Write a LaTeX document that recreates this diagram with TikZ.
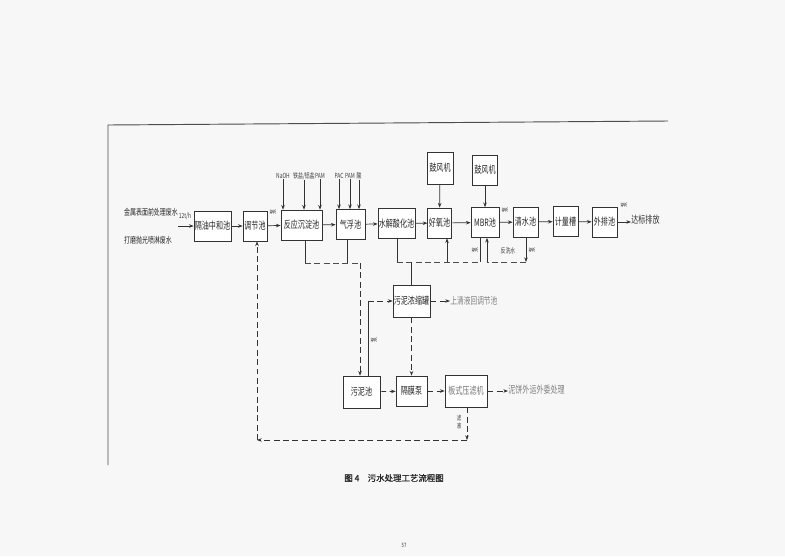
\documentclass[tikz,border=0pt]{standalone}
\usepackage{fontspec}
\setmainfont[FakeStretch=0.7]{Noto Sans CJK SC}
\newfontfamily\capfont[FakeBold=1]{Noto Sans CJK SC}
\usetikzlibrary{arrows.meta, calc}

\begin{document}
\begin{tikzpicture}[
			x=0.3mm, 
			y=-0.3mm, 
			line width=0.6pt, 
			every node/.style={ 
				inner sep=0pt 
			}, 
			pool/.style={ 
				draw=black!80, 
				fill=white, 
				minimum height=9mm, 
				font=\fontsize{8.6}{9}\selectfont, 
				text=black!85 
			}, 
			note/.style={ 
				font=\fontsize{6}{6}\selectfont, 
				text=black!75 
			}, 
			faint/.style={ 
				font=\fontsize{8.2}{9}\selectfont, 
				text=black!50 
			}, 
			flow/.style={ 
				draw=black!80, 
				-{Stealth[length=4pt, width=3pt]} 
			}, 
			sludge/.style={ 
				draw=black!70, 
				dash pattern=on 5pt off 3pt 
			} 
			] 
			% Page 
			\fill[black!3] (0,0) rectangle (785,556);
			\draw[black!70, line width=0.8pt] (108,465) -- (108,125) -- (668,121);

			% Main line 
			\node[align=left, font=\fontsize{7.3}{23.5}\selectfont, text=black!85] (src) at (151,226) {金属表面前处理废水\\打磨抛光喷淋废水};
			\node[note] (rate) at (185,216) {12t/h};
			\node[pool, minimum width=11.1mm] (geyou) at (212.5,226) {隔油中和池};
			\node[pool, minimum width=7.2mm] (tiaojie) at (255,226) {调节池};
			\node[pool, minimum width=12.3mm] (fanying) at (301.5,225) {反应沉淀池};
			\node[pool, minimum width=8.7mm] (qifu) at (350.5,224.5) {气浮池};
			\node[pool, minimum width=11.1mm] (shuijie) at (396.5,223.5) {水解酸化池};
			\node[pool, minimum width=7mm] (haoyang) at (439.5,223) {好氧池};
			\node[pool, minimum width=8.4mm] (mbr) at (485,222.5) {MBR池};
			\node[pool, minimum width=7.5mm] (qingshui) at (525.5,222) {清水池};
			\node[pool, minimum width=7.5mm] (jiliang) at (565.5,221.5) {计量槽};
			\node[pool, minimum width=7.5mm] (waipai) at (604.5,222) {外排池};
			\node[anchor=west, font=\fontsize{8.6}{9}\selectfont, text=black!80] (out) at (631,220) {达标排放};

			% Blowers 
			\node[pool, minimum width=7.8mm, minimum height=9.6mm] (blow1) at (440,168) {鼓风机};
			\node[pool, minimum width=7.5mm, minimum height=9mm] (blow2) at (485,170) {鼓风机};

			% Dosing 
			\node[note] (naoh) at (283,176) {NaOH};
			\node[note] (salt) at (304,176) {铁盐/铝盐};
			\node[note] (pam1) at (320,176) {PAM};
			\node[note] (pac) at (339,176) {PAC};
			\node[note] (pam2) at (350,176) {PAM};
			\node[note] (acid) at (359,176) {酸};

			% Pump labels 
			\node[note, rotate=90] (p1) at (273,212) {泵};
			\node[note, rotate=90] (p2) at (505,210) {泵};
			\node[note, rotate=90] (p3) at (624,205) {泵};
			\node[note, rotate=90] (p4) at (475,250) {泵};
			\node[note, rotate=90] (p5) at (532,250) {泵};
			\node[note, rotate=90] (p6) at (374,340) {泵};
			\node[note] (wash) at (508,251) {反洗水};

			% Sludge line 
			\node[pool, minimum width=11.1mm, minimum height=9.6mm] (nongsuo) at (411.5,301) {污泥浓缩罐};
			\node[anchor=west, faint] (clear) at (450,301) {上清液回调节池};
			\node[pool, minimum width=11.1mm, minimum height=9.6mm] (wuni) at (361.5,392) {污泥池};
			\node[pool, minimum width=9.3mm] (gemo) at (411.5,391) {隔膜泵};
			\node[pool, minimum width=12.6mm, minimum height=9.6mm, text=black!55] (banshi) at (466,391) {板式压滤机};
			\node[anchor=west, faint, font=\fontsize{8.6}{9}\selectfont] (cake) at (508,390) {泥饼外运外委处理};
			\node[note, align=center, font=\fontsize{5.5}{6.5}\selectfont] (lvye) at (459,422) {滤\\液};

			% Caption 
			\node[font=\capfont\fontsize{7.2}{8}\selectfont, text=black!85] (cap) at (394,478) {图 4\quad 污水处理工艺流程图};
			\node[font=\fontsize{5}{5}\selectfont, text=black!80] (pg) at (404,545) {57};

			% Water flow 
			\draw[flow] (src.east |- geyou) -- (geyou);
			\draw[flow] (geyou) -- (tiaojie);
			\draw[flow] (tiaojie) -- (fanying);
			\draw[flow] (fanying) -- (qifu);
			\draw[flow] (qifu) -- (shuijie);
			\draw[flow] (shuijie) -- (haoyang);
			\draw[flow] (haoyang) -- (mbr);
			\draw[flow] (mbr) -- (qingshui);
			\draw[flow] (qingshui) -- (jiliang);
			\draw[flow] (jiliang) -- (waipai);
			\draw[flow] (waipai.east) -- (out.west |- waipai.east);
			\draw[flow] (blow1) -- (haoyang);
			\draw[flow] (blow2) -- (mbr);
			\foreach \d in {naoh, salt, pam1} 
				\draw[flow] (\d) -- (\d |- fanying.north);
			\foreach \d in {pac, pam2, acid} 
				\draw[flow] (\d) -- (\d |- qifu.north);

			% Sludge pipes 
			\coordinate (jA) at (305,263);
			\coordinate (jB) at (347,263);
			\coordinate (jC) at (360,263);
			\coordinate (jD) at (368,301);
			\coordinate (jE) at (397,262);
			\coordinate (jF) at (480,262);
			\coordinate (jG) at (447,262);
			\coordinate (jH) at (411.5,262);
			\coordinate (jI) at (487,262);
			\coordinate (jJ) at (526,262);
			\coordinate (jK) at (467,440);
			\coordinate (jL) at (257,440);
			\draw[black!80] (jA |- fanying.south) -- (jA);
			\draw[black!80] (jB |- qifu.south) -- (jB);
			\draw[sludge] (jA) -- (jC);
			\draw[sludge, flow] (jC) -- (jC |- wuni.north);
			\draw[black!80] (jD |- wuni.north) -- (jD);
			\draw[sludge, flow] (jD) -- (nongsuo.west);
			\draw[black!80] (jE |- shuijie.south) -- (jE);
			\draw[black!80] (jF |- mbr.south) -- (jF);
			\draw[sludge] (jE) -- (jF);
			\draw[flow] (jG) -- (jG |- haoyang.south);
			\draw[black!80] (jH) -- (nongsuo.north);
			\draw[flow] (jJ |- qingshui.south) -- (jJ);
			\draw[sludge] (jJ) -- (jI);
			\draw[flow] (jI) -- (jI |- mbr.south);
			\draw[sludge, flow] (nongsuo.east) -- (clear.west);
			\draw[sludge, flow] (nongsuo) -- (gemo);
			\draw[sludge, flow] (wuni) -- (gemo);
			\draw[sludge, flow] (gemo) -- (banshi);
			\draw[sludge, flow] (banshi.east) -- (cake.west |- banshi.east);
			\draw[sludge, flow] (jK |- banshi.south) -- (jK);
			\draw[sludge, flow] (jK) -- (jL);
			\draw[sludge, flow] (jL) -- (jL |- tiaojie.south);
		\end{tikzpicture}
\end{document}
